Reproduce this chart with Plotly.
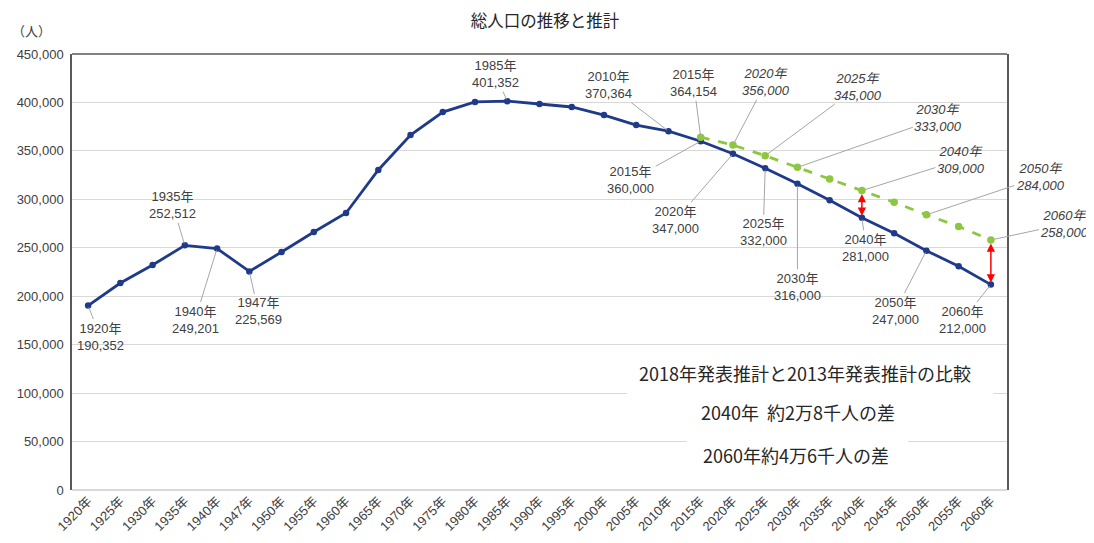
import plotly.graph_objects as go

# ---------------- data ----------------
categories = ["1920年", "1925年", "1930年", "1935年", "1940年", "1947年", "1950年", "1955年",
              "1960年", "1965年", "1970年", "1975年", "1980年", "1985年", "1990年", "1995年",
              "2000年", "2005年", "2010年", "2015年", "2020年", "2025年", "2030年", "2035年",
              "2040年", "2045年", "2050年", "2055年", "2060年"]

# 実績 + 2018年発表推計 (blue)
est2018 = [190352, 213600, 232200, 252512, 249201, 225569, 245600, 266300,
           285900, 330300, 366400, 390100, 400500, 401352, 398400, 395300,
           387000, 376700, 370364, 360000, 347000, 332000, 316000, 299000,
           281000, 265000, 247000, 231000, 212000]

# 2013年発表推計 (green, from 2015)
proj_cats = ["2015年", "2020年", "2025年", "2030年", "2035年", "2040年", "2045年", "2050年", "2055年", "2060年"]
est2013 = [364154, 356000, 345000, 333000, 321000, 309000, 297000, 284000, 272000, 258000]

blue_label_years = ["1920年", "1935年", "1940年", "1947年", "1985年", "2010年", "2015年", "2020年",
                    "2025年", "2030年", "2040年", "2050年", "2060年"]
green_label_years = ["2015年", "2020年", "2025年", "2030年", "2040年", "2050年", "2060年"]

compare_texts = ["2018年発表推計と2013年発表推計の比較", "2040年  約2万8千人の差", "2060年約4万6千人の差"]
diff_years = ["2040年", "2060年"]

# ---------------- layout helpers (positions, not data) ----------------
blue_offsets = {"1920年": (12, 31), "1935年": (-12, -40), "1940年": (-22, 71), "1947年": (9, 40),
                "1985年": (-12, -27), "2010年": (-60, -46), "2015年": (-70, 39), "2020年": (-57, 66),
                "2025年": (-2, 64), "2030年": (0, 103), "2040年": (4, 30), "2050年": (-31, 60),
                "2060年": (-28, 35)}
green_offsets = {"2015年": (-7, -54), "2020年": (33, -63), "2025年": (93, -69), "2030年": (141, -49),
                 "2040年": (99, -31), "2050年": (114, -38), "2060年": (74, -16)}

FONT = "Liberation Sans, Arial, Noto Sans CJK JP, sans-serif"
JFONT = "Noto Sans CJK JP, sans-serif"
TXT = "#404040"
BLUE = "#1f3a8a"
GREEN = "#8dc63f"

# page body has an 8px margin; figure coordinates are page coordinates minus 8
W, H = 1086, 535
L, R, T, B = 64, 87, 46, 53

fig = go.Figure()
fig.add_trace(go.Scatter(x=categories, y=est2018, mode="lines+markers",
                         line=dict(color=BLUE, width=2.8),
                         marker=dict(size=6.5, color=BLUE), showlegend=False, cliponaxis=False))
fig.add_trace(go.Scatter(x=proj_cats, y=est2013, mode="lines+markers",
                         line=dict(color=GREEN, width=2.8, dash="dash"),
                         marker=dict(size=7.5, color=GREEN), showlegend=False, cliponaxis=False))

annotations = []
val_blue = dict(zip(categories, est2018))
for yr in blue_label_years:
    v = val_blue[yr]
    ax, ay = blue_offsets[yr]
    annotations.append(dict(x=yr, y=v, xref="x", yref="y", ax=ax, ay=ay,
                            text=f"{yr}<br>{v:,}", showarrow=True, arrowhead=0,
                            arrowcolor="#a6a6a6", arrowwidth=1, standoff=2,
                            font=dict(family=FONT, size=13, color=TXT)))
val_green = dict(zip(proj_cats, est2013))
for i, yr in enumerate(green_label_years):
    v = val_green[yr]
    ax, ay = green_offsets[yr]
    annotations.append(dict(x=yr, y=v, xref="x", yref="y", ax=ax, ay=ay,
                            text=f"{yr}<br>{v:,}", showarrow=True, arrowhead=0,
                            arrowcolor="#a6a6a6", arrowwidth=1, standoff=2,
                            font=dict(family=FONT, size=13, color=TXT,
                                      style="normal" if i == 0 else "italic")))

# red double arrows showing the difference
for yr in diff_years:
    hi = val_green[yr]
    lo = val_blue[yr]
    annotations.append(dict(x=yr, y=lo, xref="x", yref="y", axref="x", ayref="y",
                            ax=yr, ay=hi, text="", showarrow=True, arrowhead=2,
                            arrowside="end+start", arrowsize=1.1, arrowwidth=1.5,
                            standoff=2, startstandoff=2,
                            arrowcolor="#ff0000"))

# comparison text block
text_pos = [(0.784, 0.268), (0.776, 0.178), (0.774, 0.080)]
for t, (px, py) in zip(compare_texts, text_pos):
    annotations.append(dict(x=px, y=py, xref="paper", yref="paper", text=t, showarrow=False,
                            xanchor="center", yanchor="middle",
                            font=dict(family=JFONT, size=18, color="#262626")))

annotations.append(dict(x=-0.066, y=1.055, xref="paper", yref="paper", text="（人）",
                        showarrow=False, xanchor="left", yanchor="middle",
                        font=dict(family=JFONT, size=13, color=TXT)))

shapes = [
    dict(type="rect", xref="paper", yref="paper", x0=(627 - 72) / 935, x1=(993 - 72) / 935,
         y0=(490 - 398) / 436, y1=(490 - 352) / 436, fillcolor="white", line=dict(width=0), layer="above"),
    dict(type="rect", xref="paper", yref="paper", x0=(687 - 72) / 935, x1=(908 - 72) / 935,
         y0=(490 - 472) / 436, y1=(490 - 398) / 436, fillcolor="white", line=dict(width=0), layer="above"),
    dict(type="line", xref="paper", yref="paper", x0=0, x1=1, y0=1, y1=1,
         line=dict(color="#595959", width=1.5)),
]

fig.update_layout(
    width=W, height=H,
    margin=dict(l=L, r=R, t=T, b=B),
    paper_bgcolor="white", plot_bgcolor="white",
    title=dict(text="総人口の推移と推計", x=537 / W, xref="container", xanchor="center",
               y=1 - 13 / H, yanchor="middle", yref="container",
               font=dict(family=JFONT, size=16.5, color="#262626")),
    xaxis=dict(type="category", categoryorder="array", categoryarray=categories,
               range=[-0.5, len(categories) - 0.5],
               tickangle=-45, tickfont=dict(family=FONT, size=13, color=TXT),
               showgrid=False, showline=False, ticks="", automargin=False),
    yaxis=dict(range=[0, 450000], dtick=50000, tickformat=",",
               tickfont=dict(family=FONT, size=13, color=TXT), ticklabelstandoff=4,
               gridcolor="#d9d9d9", gridwidth=1, zeroline=True, zerolinecolor="#d9d9d9",
               showline=True, linecolor="#595959", linewidth=1.5, mirror=True,
               ticks="", automargin=False),
    annotations=annotations,
    shapes=shapes,
)

fig.write_html("out.html")
